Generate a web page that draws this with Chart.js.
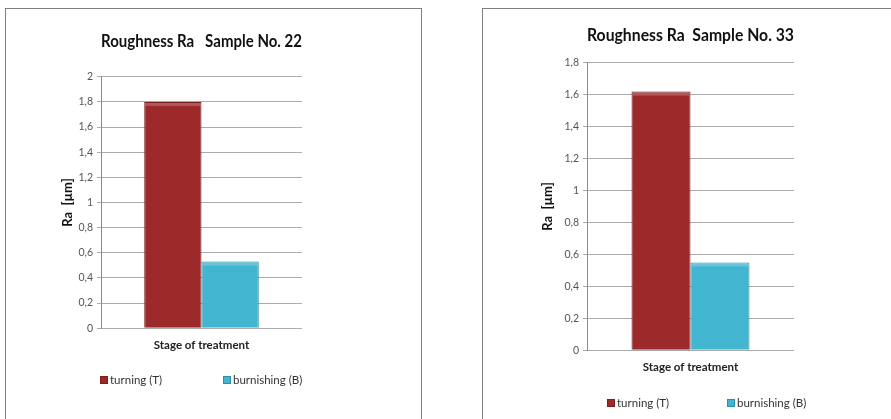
<!DOCTYPE html>
<html>
<head>
<meta charset="utf-8">
<script src="https://cdn.jsdelivr.net/npm/chart.js@4.4.0/dist/chart.umd.min.js"></script>
<style>
    body { margin: 0; background: #fff; width: 891px; height: 419px; overflow: hidden; position: relative; }
    .panel { position: absolute; border: 1px solid #7f7f7f; background: #fff; }
    .panel canvas { position: absolute; left: 0; top: 0; }
    .leyenda { position: absolute; font-family: Lato, "Open Sans", sans-serif; font-size: 11.5px; color: #333; white-space: nowrap; }
    .leyenda-item { position: absolute; top: 0; }
    .leyenda-dot { display: inline-block; width: 6px; height: 6px; margin-right: 2px; vertical-align: 0px; }
</style>
</head>
<body>

<div class="panel" id="panel22" style="left:5px; top:8px; width:415px; height:430px">
    <canvas id="graf22" width="415" height="410"></canvas>
    <div class="leyenda" id="leyenda22" style="left:94px; top:364px"></div>
</div>

<div class="panel" id="panel33" style="left:482px; top:8px; width:420px; height:430px">
    <canvas id="graf33" width="408" height="410"></canvas>
    <div class="leyenda" id="leyenda33" style="left:124px; top:387px"></div>
</div>

<script>
// ===== DATOS =====
const etapas = [""]
const series = ["turning (T)", "burnishing (B)"]
const colores = ["#9c2a2a", "#42b5d0"]
const bordes = ["#7a1e1e", "#2f8fa8"]

const ra22 = [1.80, 0.53]
const ra33 = [1.62, 0.55]

const ticksMax22 = 2
const ticksMax33 = 1.8

const FUENTE = "Lato, 'Open Sans', sans-serif"

// brillo en el borde superior de cada barra
const brilloBarras = {
    id: "brilloBarras",
    afterDatasetsDraw(chart) {
        const ctx = chart.ctx
        chart.data.datasets.forEach((ds, i) => {
            chart.getDatasetMeta(i).data.forEach(bar => {
                const w = bar.width
                const x = bar.x - w / 2
                ctx.save()
                ctx.fillStyle = "rgba(255,255,255,0.22)"
                ctx.fillRect(x + 1, bar.y + 1, w - 2, 3)
                ctx.restore()
            })
        })
    }
}

function crearGrafico(id, titulo, valores, maxY, lay) {
    const ctx = document.getElementById(id).getContext("2d")
    return new Chart(ctx, {
        type: "bar",
        data: {
            labels: etapas,
            datasets: series.map((nombre, i) => ({
                label: nombre,
                data: [valores[i]],
                backgroundColor: colores[i],
                borderColor: bordes[i],
                borderWidth: 1,
                categoryPercentage: 0.57,
                barPercentage: 1.0
            }))
        },
        plugins: [brilloBarras],
        options: {
            responsive: false,
            animation: false,
            layout: { padding: { left: lay.left, right: lay.right, top: 0, bottom: lay.bottom } },
            plugins: {
                legend: { display: false },
                tooltip: { enabled: false },
                title: {
                    display: true,
                    fullSize: false,
                    text: titulo,
                    color: "#111",
                    font: { family: FUENTE, size: 16.5, weight: "bold" },
                    padding: { top: lay.titleTop, bottom: lay.titleBottom }
                }
            },
            scales: {
                x: {
                    grid: { display: false, drawTicks: false },
                    border: { display: false },
                    ticks: { display: false },
                    title: {
                        display: true,
                        text: "Stage of treatment",
                        color: "#222",
                        font: { family: FUENTE, size: 11.5, weight: "bold" },
                        padding: { top: 10, bottom: 0 }
                    }
                },
                y: {
                    min: 0,
                    max: maxY,
                    afterFit: scale => { scale.width = lay.yWidth },
                    grid: { color: "#ababab", tickLength: 4, drawTicks: true },
                    border: { display: true, color: "#8c8c8c" },
                    ticks: {
                        stepSize: 0.2,
                        padding: 4,
                        color: "#555",
                        font: { family: FUENTE, size: 10.5 },
                        callback: v => Number(v.toFixed(1)).toString().replace(".", ",")
                    },
                    title: {
                        display: true,
                        text: "Ra  [µm]",
                        color: "#111",
                        font: { family: FUENTE, size: 13, weight: "bold" },
                        padding: { top: 3, bottom: 4 }
                    }
                }
            }
        }
    })
}

function pintarLeyenda(id, gap) {
    const leyenda = document.getElementById(id)
    leyenda.innerHTML = series.map((nombre, i) => `
        <span class="leyenda-item" style="left:${i * gap}px">
            <span class="leyenda-dot" style="background:${colores[i]};border:1px solid ${bordes[i]}"></span>${nombre}
        </span>
    `).join("")
}

crearGrafico("graf22", "Roughness Ra   Sample No. 22", ra22, ticksMax22, {
    left: 51, right: 119, bottom: 67, yWidth: 44, titleTop: 23, titleBottom: 25
})
crearGrafico("graf33", "Roughness Ra  Sample No. 33", ra33, ticksMax33, {
    left: 54, right: 97, bottom: 45, yWidth: 50, titleTop: 17, titleBottom: 17
})

pintarLeyenda("leyenda22", 123)
pintarLeyenda("leyenda33", 120)
</script>
</body>
</html>
